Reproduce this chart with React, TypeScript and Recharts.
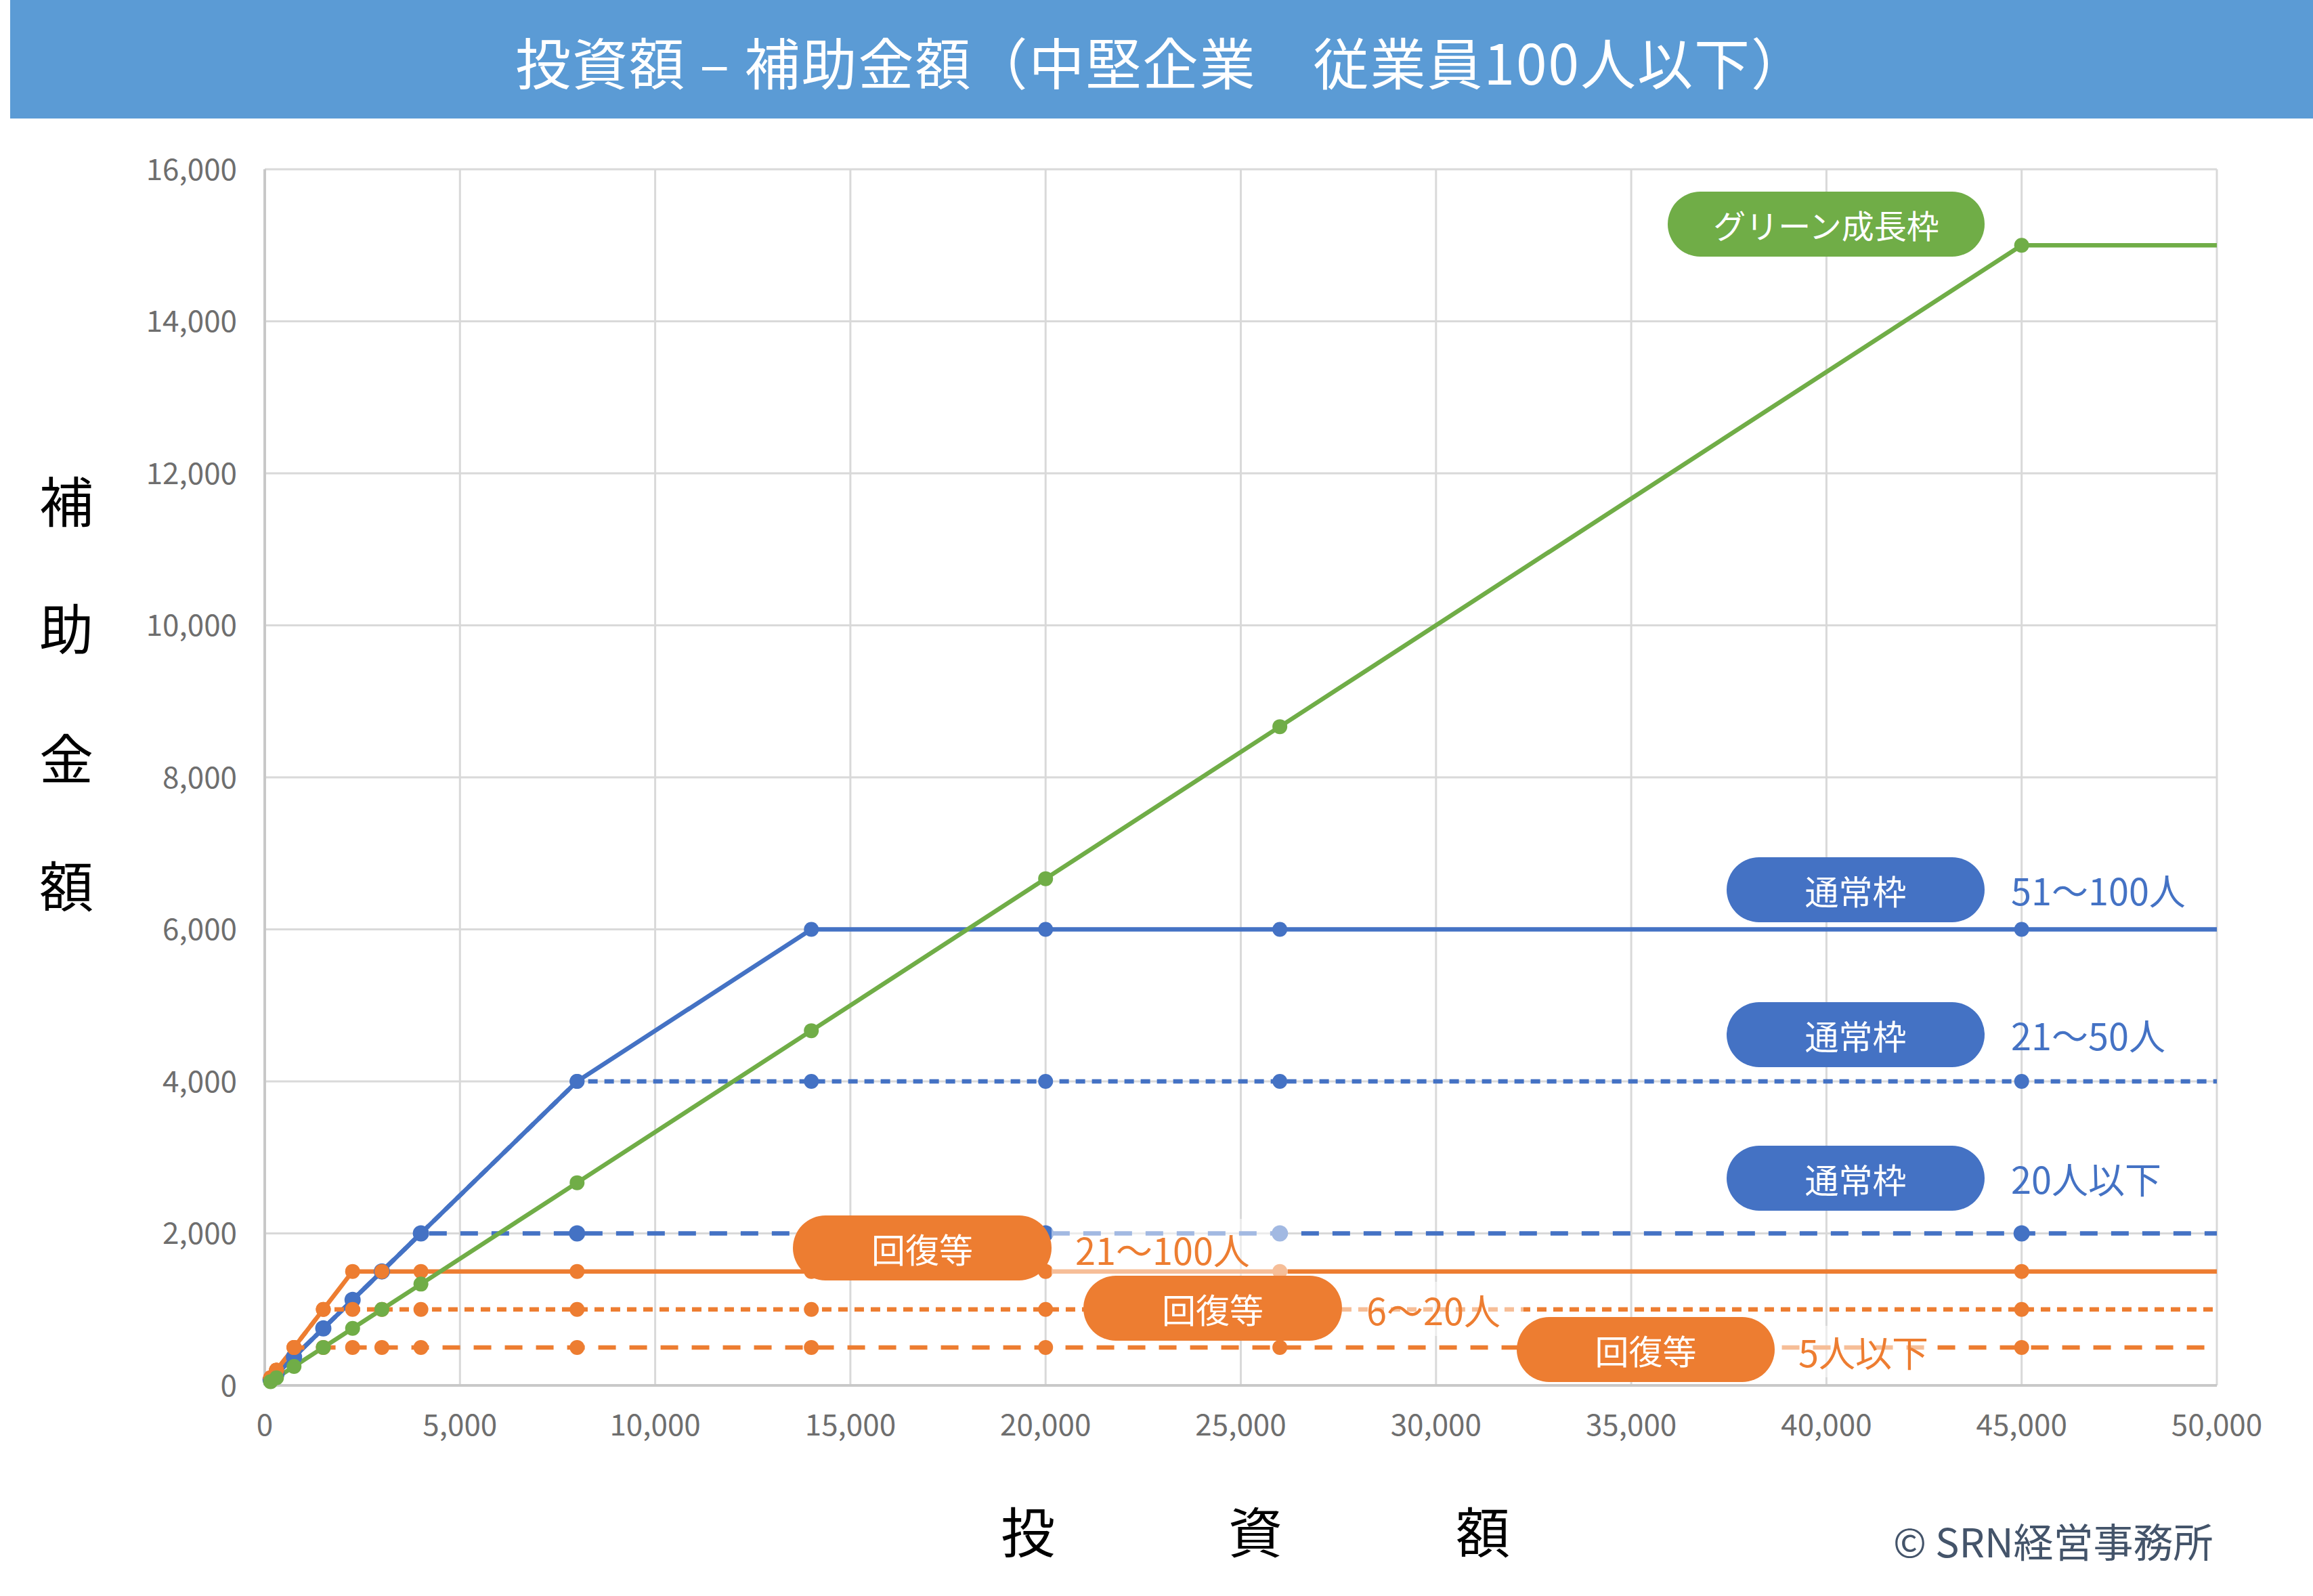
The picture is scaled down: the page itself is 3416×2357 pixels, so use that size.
import React from "react";
import { CartesianGrid, Line, LineChart, XAxis, YAxis } from "recharts";

// 投資額（万円）
const investment = [150, 300, 750, 1500, 2250, 3000, 4000, 8000, 14000, 20000, 26000, 45000, 50000];

// 補助金額（万円）
const normal100 = [75, 150, 375, 750, 1125, 1500, 2000, 4000, 6000, 6000, 6000, 6000, 6000];
const normal50 = [75, 150, 375, 750, 1125, 1500, 2000, 4000, 4000, 4000, 4000, 4000, 4000];
const normal20 = [75, 150, 375, 750, 1125, 1500, 2000, 2000, 2000, 2000, 2000, 2000, 2000];
const recovery100 = [100, 200, 500, 1000, 1500, 1500, 1500, 1500, 1500, 1500, 1500, 1500, 1500];
const recovery20 = [100, 200, 500, 1000, 1000, 1000, 1000, 1000, 1000, 1000, 1000, 1000, 1000];
const recovery5 = [100, 200, 500, 500, 500, 500, 500, 500, 500, 500, 500, 500, 500];
const green = [50, 100, 250, 500, 750, 1000, 1333, 2667, 4667, 6667, 8667, 15000, 15000];

const xTicks = [0, 5000, 10000, 15000, 20000, 25000, 30000, 35000, 40000, 45000, 50000];
const yTicks = [0, 2000, 4000, 6000, 8000, 10000, 12000, 14000, 16000];

const BLUE = "#4472C4";
const ORANGE = "#ED7D31";
const GREEN = "#70AD47";
const FONT = '"Noto Sans CJK JP", "Noto Sans", sans-serif';

const rows = investment.map((x, i) => ({
  x,
  normal100: normal100[i],
  normal50: normal50[i],
  normal20: normal20[i],
  recovery100: recovery100[i],
  recovery20: recovery20[i],
  recovery5: recovery5[i],
  green: green[i],
}));

// drawn bottom to top
const series = [
  { key: "normal20", color: BLUE, dash: "26 20", r: 12 },
  { key: "normal50", color: BLUE, dash: "14 10", r: 11 },
  { key: "normal100", color: BLUE, dash: undefined, r: 11 },
  { key: "recovery5", color: ORANGE, dash: "26 20", r: 11 },
  { key: "recovery20", color: ORANGE, dash: "14 10", r: 11 },
  { key: "recovery100", color: ORANGE, dash: undefined, r: 11 },
  { key: "green", color: GREEN, dash: undefined, r: 11 },
];

const lastIndex = investment.length - 1;

const makeDot = (key: string, color: string, r: number) => (props: any) => {
  const { cx, cy, index } = props;
  if (index === lastIndex || cx == null || cy == null) return <g key={`${key}-${index}`} />;
  return <circle key={`${key}-${index}`} cx={cx} cy={cy} r={r} fill={color} />;
};

const fmt = (v: number) => v.toLocaleString("en-US");

type PillProps = { left: number; top: number; width: number; height: number; color: string; text: string; size?: number };

function Pill({ left, top, width, height, color, text, size = 50 }: PillProps) {
  return (
    <div
      style={{
        position: "absolute",
        left,
        top,
        width,
        height,
        borderRadius: height / 2,
        background: color,
        color: "#fff",
        fontSize: size,
        display: "flex",
        alignItems: "center",
        justifyContent: "center",
        lineHeight: 1,
      }}
    >
      {text}
    </div>
  );
}

function Note({ left, cy, color, text }: { left: number; cy: number; color: string; text: string }) {
  return (
    <div
      style={{
        position: "absolute",
        left,
        top: cy,
        transform: "translateY(-50%)",
        color,
        fontSize: 54,
        lineHeight: 1,
        whiteSpace: "nowrap",
      }}
    >
      {text}
    </div>
  );
}

function Veil({ left, top, width, height }: { left: number; top: number; width: number; height: number }) {
  return (
    <div style={{ position: "absolute", left, top, width, height, background: "rgba(255,255,255,0.5)" }} />
  );
}

export default function App() {
  return (
    <div
      style={{
        position: "absolute",
        left: 0,
        top: 0,
        width: 3416,
        height: 2357,
        background: "#fff",
        fontFamily: FONT,
        overflow: "hidden",
      }}
    >
      <div
        style={{
          position: "absolute",
          left: 15,
          top: 0,
          width: 3401,
          height: 175,
          background: "#5B9BD5",
          color: "#fff",
          fontSize: 82,
          letterSpacing: 2,
          display: "flex",
          alignItems: "center",
          justifyContent: "center",
          paddingTop: 4,
          boxSizing: "border-box",
          lineHeight: 1,
          whiteSpace: "pre",
        }}
      >
        投資額 – 補助金額（中堅企業　従業員100人以下）
      </div>

      <div style={{ position: "absolute", left: 0, top: 0 }}>
        <LineChart
          width={3416}
          height={2357}
          data={rows}
          margin={{ top: 250, right: 142, bottom: 251, left: 291 }}
        >
          <CartesianGrid stroke="#D9D9D9" strokeWidth={3} />
          <XAxis
            type="number"
            dataKey="x"
            domain={[0, 50000]}
            ticks={xTicks}
            tickFormatter={fmt}
            height={60}
            tickSize={0}
            tickMargin={43}
            axisLine={{ stroke: "#C8C8C8", strokeWidth: 4 }}
            tick={{ fill: "#6E6E6E", fontSize: 44, fontFamily: FONT }}
          />
          <YAxis
            type="number"
            domain={[0, 16000]}
            ticks={yTicks}
            tickFormatter={fmt}
            width={100}
            tickSize={0}
            tickMargin={41}
            axisLine={{ stroke: "#C8C8C8", strokeWidth: 4 }}
            tick={{ fill: "#6E6E6E", fontSize: 44, fontFamily: FONT }}
          />
          {series.map((s) => (
            <Line
              key={s.key}
              type="linear"
              dataKey={s.key}
              stroke={s.color}
              strokeWidth={6.5}
              strokeDasharray={s.dash}
              dot={makeDot(s.key, s.color, s.r)}
              activeDot={false}
              isAnimationActive={false}
            />
          ))}
        </LineChart>
      </div>

      {/* label veils */}
      <Veil left={1553} top={1800} width={349} height={88} />
      <Veil left={1982} top={1893} width={268} height={80} />
      <Veil left={2621} top={1958} width={226} height={76} />

      <Pill left={2463} top={283} width={468} height={96} color={GREEN} text="グリーン成長枠" size={48} />

      <Pill left={2550} top={1266} width={381} height={96} color={BLUE} text="通常枠" />
      <Pill left={2550} top={1480} width={381} height={96} color={BLUE} text="通常枠" />
      <Pill left={2550} top={1692} width={381} height={96} color={BLUE} text="通常枠" />
      <Note left={2970} cy={1314} color={BLUE} text="51～100人" />
      <Note left={2970} cy={1528} color={BLUE} text="21～50人" />
      <Note left={2970} cy={1740} color={BLUE} text="20人以下" />

      <Pill left={1171} top={1795} width={382} height={96} color={ORANGE} text="回復等" />
      <Pill left={1600} top={1884} width={382} height={96} color={ORANGE} text="回復等" />
      <Pill left={2240} top={1945} width={381} height={96} color={ORANGE} text="回復等" />
      <Note left={1588} cy={1845} color={ORANGE} text="21～100人" />
      <Note left={2018} cy={1934} color={ORANGE} text="6～20人" />
      <Note left={2656} cy={1996} color={ORANGE} text="5人以下" />

      {/* 縦軸タイトル */}
      {["補", "助", "金", "額"].map((c, i) => (
        <div
          key={c}
          style={{
            position: "absolute",
            left: 58,
            top: [736, 924, 1116, 1304][i],
            transform: "translateY(-50%)",
            fontSize: 80,
            lineHeight: 1,
            color: "#000",
          }}
        >
          {c}
        </div>
      ))}

      {/* 横軸タイトル */}
      {["投", "資", "額"].map((c, i) => (
        <div
          key={c}
          style={{
            position: "absolute",
            left: [1518, 1854, 2190][i],
            top: 2258,
            transform: "translate(-50%, -50%)",
            fontSize: 80,
            lineHeight: 1,
            color: "#000",
          }}
        >
          {c}
        </div>
      ))}

      <div
        style={{
          position: "absolute",
          left: 2796,
          top: 2274,
          transform: "translateY(-50%)",
          fontSize: 59,
          lineHeight: 1,
          color: "#44546A",
          whiteSpace: "nowrap",
        }}
      >
        © SRN経営事務所
      </div>
    </div>
  );
}
